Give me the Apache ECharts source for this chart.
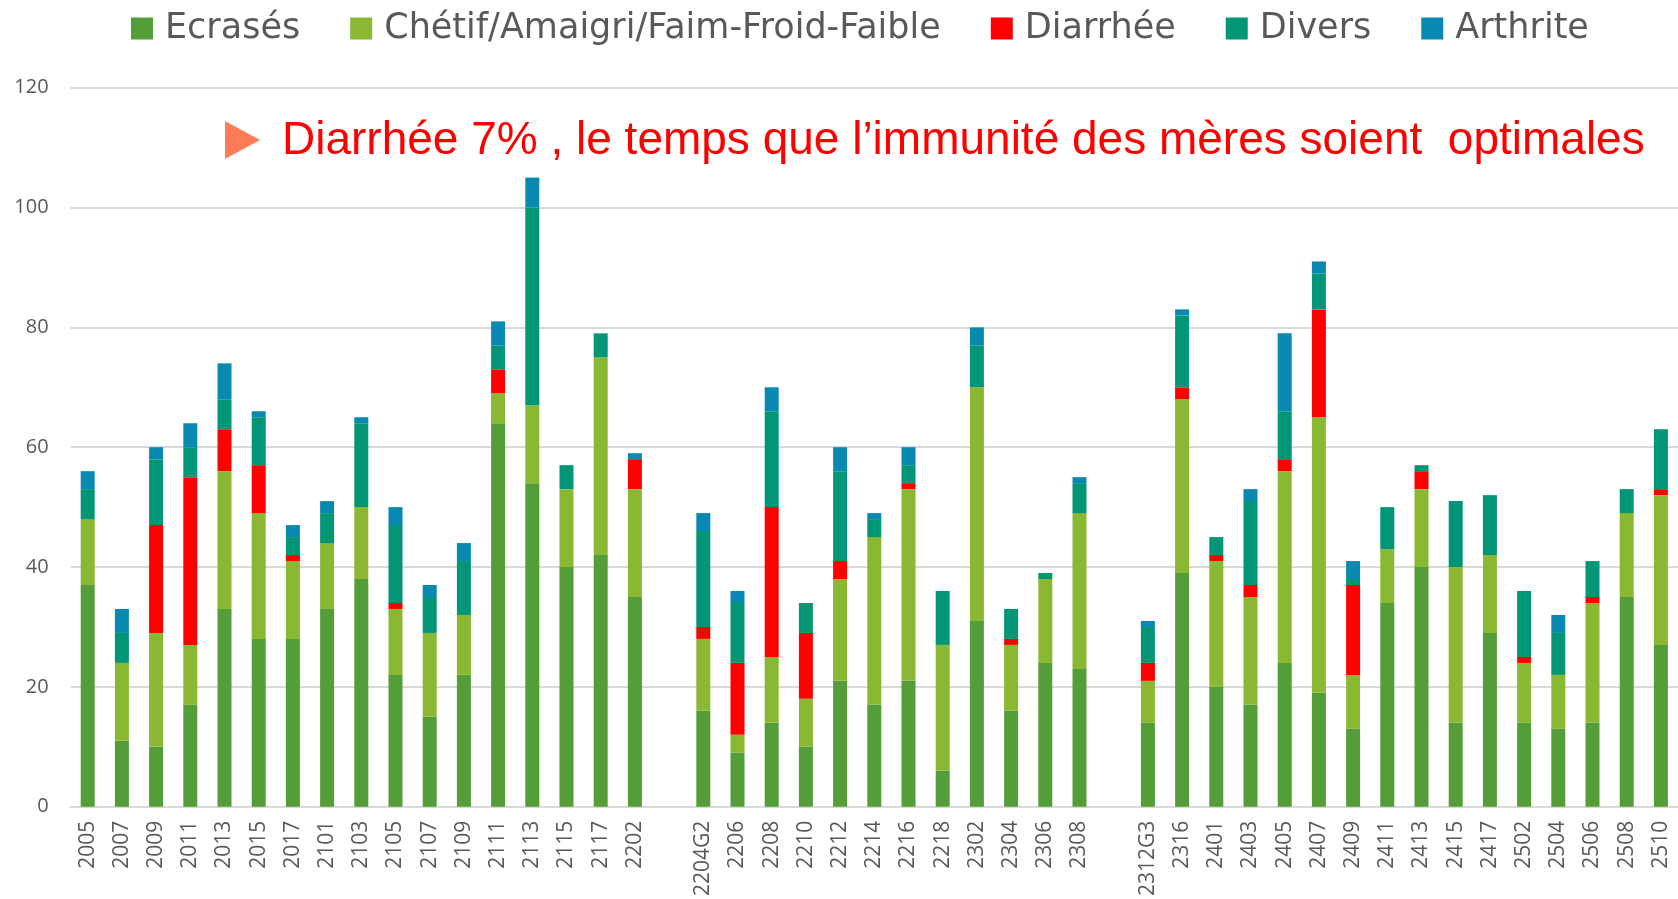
<!DOCTYPE html>
<html>
<head>
<meta charset="utf-8">
<title>Causes de mortalité</title>
<script src="https://cdn.jsdelivr.net/npm/echarts@6/dist/echarts.min.js"></script>
<style>
  html, body { margin: 0; padding: 0; background: #fff; }
  #chart { width: 1678px; height: 899px; }
</style>
</head>
<body>
<div id="chart"></div>
<script>
//============== données ==========================
// '' = colonne vide entre les groupes
var categories = ['2005','2007','2009','2011','2013','2015','2017','2101','2103','2105','2107','2109','2111','2113','2115','2117','2202', '',
    '2204G2','2206','2208','2210','2212','2214','2216','2218','2302','2304','2306','2308', '',
    '2312G3','2316','2401','2403','2405','2407','2409','2411','2413','2415','2417','2502','2504','2506','2508','2510'];

var ecrases  = [37,11,10,17,33,28,28,33,38,22,15,22,64,54,40,42,35, null, 16,9,14,10,21,17,21,6,31,16,24,23, null, 14,39,20,17,24,19,13,34,40,14,29,14,13,14,35,27];
var chetif   = [11,13,19,10,23,21,13,11,12,11,14,10,5,13,13,33,18, null, 12,3,11,8,17,28,32,21,39,11,14,26, null, 7,29,21,18,32,46,9,9,13,26,13,10,9,20,14,25];
var diarrhee = [0,0,18,28,7,8,1,0,0,1,0,0,4,0,0,0,5, null, 2,12,25,11,3,0,1,0,0,1,0,0, null, 3,2,1,2,2,18,15,0,3,0,0,1,0,1,0,1];
var divers   = [5,5,11,5,5,8,3,5,14,13,6,9,4,33,4,4,0, null, 16,10,16,5,15,3,3,9,7,5,1,5, null, 6,12,3,14,8,6,1,7,1,11,10,11,7,6,4,10];
var arthrite = [3,4,2,4,6,1,2,2,1,3,2,3,4,5,0,0,1, null, 3,2,4,0,4,1,3,0,3,0,0,1, null, 1,1,0,2,13,2,3,0,0,0,0,0,3,0,0,0];

var seriesNames  = ['Ecrasés', 'Chétif/Amaigri/Faim-Froid-Faible', 'Diarrhée', 'Divers', 'Arthrite'];
var seriesColors = ['#549E39', '#8AB833', '#FF0000', '#029676', '#0989B1'];
var yTicks = { min: 0, max: 120, interval: 20 };

var noteText = 'Diarrhée 7% , le temps que l\u2019immunité des mères soient  optimales';

//============== outils ==========================
function makeBar(name, values, color) {
    return {
        name: name,
        type: 'bar',
        stack: 'total',
        barWidth: 14,
        data: values,
        itemStyle: { color: color }
    };
}

var gridColor = '#D9D9D9';
var labelColor = '#595959';

var option = {
    animation: false,
    color: seriesColors,
    legend: {
        left: 126,
        top: 6,
        itemWidth: 22,
        itemHeight: 22,
        itemGap: 50,
        icon: 'rect',
        textStyle: {
            fontFamily: 'DejaVu Sans',
            fontSize: 35,
            color: labelColor,
            padding: [0, 0, 0, 7]
        },
        data: seriesNames
    },
    grid: { left: 70.6, right: -8.5, top: 87.7, bottom: 90 },
    xAxis: {
        type: 'category',
        data: categories,
        axisTick: { show: false },
        axisLine: { lineStyle: { color: gridColor, width: 2 } },
        axisLabel: {
            interval: 0,
            rotate: 90,
            margin: 14,
            color: labelColor,
            fontFamily: 'Open Sans',
            fontSize: 21
        }
    },
    yAxis: {
        type: 'value',
        min: yTicks.min,
        max: yTicks.max,
        interval: yTicks.interval,
        axisLine: { show: false },
        axisTick: { show: false },
        splitLine: { lineStyle: { color: gridColor, width: 2 } },
        axisLabel: { margin: 22, color: labelColor, fontFamily: 'Open Sans', fontSize: 20 }
    },
    graphic: [
        {
            type: 'polygon',
            shape: { points: [[225, 121], [260, 140], [225, 159]] },
            style: { fill: '#FF7C55' }
        },
        {
            type: 'text',
            x: 282,
            y: 141,
            style: {
                text: noteText,
                fill: '#FF0000',
                fontFamily: 'Liberation Sans',
                fontSize: 46,
                verticalAlign: 'middle'
            }
        }
    ],
    series: [
        makeBar(seriesNames[0], ecrases, seriesColors[0]),
        makeBar(seriesNames[1], chetif, seriesColors[1]),
        makeBar(seriesNames[2], diarrhee, seriesColors[2]),
        makeBar(seriesNames[3], divers, seriesColors[3]),
        makeBar(seriesNames[4], arthrite, seriesColors[4])
    ]
};

var chart = echarts.init(document.getElementById('chart'));
chart.setOption(option);
</script>
</body>
</html>
